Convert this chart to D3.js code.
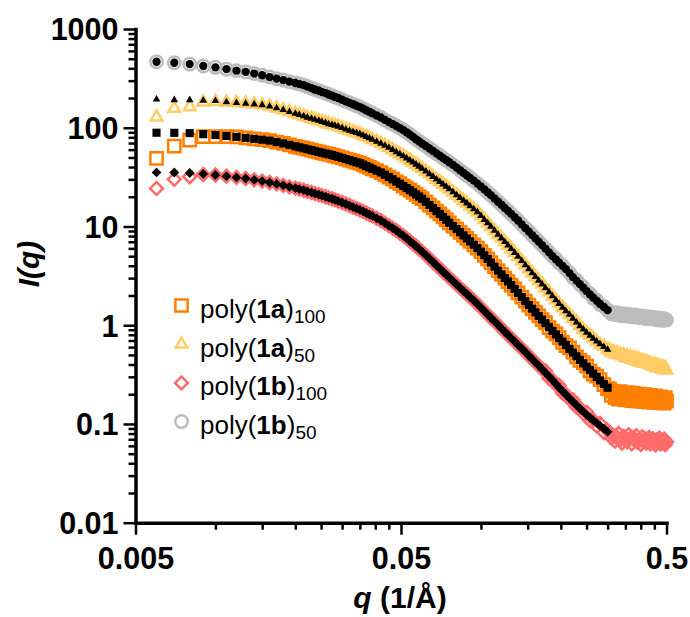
<!DOCTYPE html>
<html>
<head>
<meta charset="utf-8">
<script src="https://cdn.jsdelivr.net/npm/d3@7"></script>
<style>
  body { margin: 0; background: #fff; }
  text { font-family: "Liberation Sans", Arial, sans-serif; fill: #000; }
</style>
</head>
<body>
<svg id="chart" width="690" height="617"></svg>
<script>
// q (1/Å) where the fits are drawn
const qFit = [0.006, 0.007, 0.008, 0.009, 0.010, 0.011, 0.012, 0.013, 0.014, 0.015,
    0.016, 0.017, 0.018, 0.019, 0.020, 0.0207, 0.0215, 0.0222, 0.023, 0.0237,
    0.0245, 0.0252, 0.026, 0.0267, 0.0275, 0.0282, 0.029, 0.030, 0.031, 0.032,
    0.033, 0.034, 0.035, 0.036, 0.037, 0.038, 0.039, 0.0405, 0.042, 0.0435,
    0.045, 0.0465, 0.048, 0.0495, 0.051, 0.0525, 0.054, 0.0555, 0.057, 0.0585,
    0.060, 0.062, 0.064, 0.066, 0.068, 0.070, 0.072, 0.074, 0.076, 0.0785,
    0.081, 0.0835, 0.086, 0.0885, 0.091, 0.094, 0.097, 0.100, 0.103, 0.106,
    0.109, 0.1125, 0.116, 0.1195, 0.123, 0.1265, 0.130, 0.134, 0.138, 0.1425,
    0.147, 0.1515, 0.156, 0.1605, 0.165, 0.170, 0.175, 0.1805, 0.186, 0.1915,
    0.197, 0.203, 0.209, 0.2155, 0.222, 0.229, 0.236, 0.243, 0.250, 0.2575,
    0.265, 0.273, 0.281, 0.2905, 0.300];
// measured points past the end of the fit
const qTail = [0.305, 0.310, 0.315, 0.320, 0.325, 0.330, 0.335, 0.340, 0.345, 0.350,
    0.355, 0.360, 0.365, 0.370, 0.375, 0.380, 0.385, 0.390, 0.395, 0.400,
    0.405, 0.410, 0.415, 0.420, 0.425, 0.430, 0.435, 0.440, 0.445, 0.450,
    0.455, 0.460, 0.465, 0.470, 0.475, 0.480, 0.485, 0.490, 0.495, 0.500];

// poly(1a)100
const data1a100 = [49.0, 65.3, 75.1, 81.1, 81.4, 81.5, 80.9, 79.0, 77.2, 75.6,
    74.0, 71.6, 69.3, 67.1, 64.9, 63.4, 62.0, 60.6, 59.3, 58.1,
    56.9, 55.8, 54.8, 53.8, 52.9, 51.8, 50.8, 49.5, 48.2, 47.0,
    45.8, 44.7, 43.7, 42.3, 40.9, 39.6, 38.4, 36.8, 35.2, 33.4,
    31.7, 30.1, 28.5, 27.1, 25.7, 24.5, 23.3, 22.2, 21.1, 20.1,
    19.1, 17.8, 16.5, 15.4, 14.3, 13.4, 12.5, 11.7, 10.9, 10.1,
    9.41, 8.74, 8.12, 7.57, 7.06, 6.53, 6.04, 5.56, 5.11, 4.69,
    4.31, 3.92, 3.57, 3.27, 3.00, 2.77, 2.55, 2.33, 2.12, 1.93,
    1.75, 1.60, 1.47, 1.35, 1.24, 1.14, 1.06, 0.945, 0.870, 0.815,
    0.750, 0.672, 0.622, 0.590, 0.535, 0.478, 0.440, 0.418, 0.386, 0.345,
    0.318, 0.305, 0.281, 0.250, 0.228,
    0.225, 0.195, 0.215, 0.185, 0.205, 0.178, 0.212, 0.190, 0.200, 0.175,
    0.208, 0.186, 0.196, 0.172, 0.205, 0.182, 0.193, 0.170, 0.200, 0.180,
    0.188, 0.168, 0.198, 0.178, 0.186, 0.166, 0.195, 0.176, 0.184, 0.165,
    0.192, 0.174, 0.182, 0.164, 0.188, 0.172, 0.180, 0.163, 0.185, 0.170];
const fit1a100 = [89.0, 88.8, 88.2, 86.1, 84.3, 82.6, 80.9, 79.0, 77.2, 75.6,
    74.0, 71.6, 69.3, 67.1, 64.9, 63.4, 62.0, 60.6, 59.3, 58.1,
    56.9, 55.8, 54.8, 53.8, 52.9, 51.8, 50.8, 49.5, 48.2, 47.0,
    45.8, 44.7, 43.7, 42.3, 40.9, 39.6, 38.4, 36.8, 35.2, 33.4,
    31.7, 30.1, 28.5, 27.1, 25.7, 24.5, 23.3, 22.2, 21.1, 20.1,
    19.1, 17.8, 16.5, 15.4, 14.3, 13.4, 12.5, 11.7, 10.9, 10.1,
    9.41, 8.74, 8.12, 7.57, 7.06, 6.53, 6.04, 5.56, 5.11, 4.69,
    4.31, 3.92, 3.57, 3.27, 3.00, 2.77, 2.55, 2.33, 2.12, 1.93,
    1.75, 1.60, 1.47, 1.35, 1.24, 1.14, 1.05, 0.959, 0.876, 0.806,
    0.742, 0.683, 0.629, 0.576, 0.528, 0.485, 0.445, 0.411, 0.380, 0.351,
    0.324, 0.299, 0.276, 0.254, 0.233];

// poly(1a)50
const data1a50 = [128, 157, 163, 182, 184, 181, 179, 176, 173, 170,
    165, 158, 152, 145, 139, 135, 131, 127, 124, 121,
    118, 115, 112, 109, 107, 105, 103, 99.6, 96.3, 93.6,
    90.9, 88.6, 86.4, 83.6, 80.9, 78.4, 75.9, 72.5, 69.3, 66.0,
    62.9, 59.7, 56.7, 54.1, 51.7, 49.1, 46.7, 44.6, 42.5, 40.5,
    38.6, 36.2, 34.0, 31.9, 30.0, 28.3, 26.7, 25.3, 23.9, 22.3,
    20.8, 19.5, 18.3, 17.2, 16.1, 15.0, 14.0, 12.8, 11.7, 10.8,
    9.98, 9.09, 8.28, 7.60, 6.98, 6.44, 5.94, 5.42, 4.95, 4.48,
    4.06, 3.70, 3.37, 3.09, 2.83, 2.60, 2.38, 2.17, 1.97, 1.80,
    1.65, 1.51, 1.39, 1.28, 1.17, 1.08, 0.985, 0.900, 0.835, 0.790,
    0.738, 0.680, 0.636, 0.610, 0.571,
    0.56, 0.53, 0.54, 0.51, 0.53, 0.50, 0.51, 0.49, 0.50, 0.47,
    0.49, 0.46, 0.48, 0.45, 0.47, 0.44, 0.46, 0.43, 0.45, 0.42,
    0.44, 0.41, 0.43, 0.41, 0.42, 0.40, 0.41, 0.39, 0.40, 0.38,
    0.40, 0.37, 0.39, 0.37, 0.38, 0.36, 0.375, 0.355, 0.37, 0.35];
const fit1a50 = [194, 191, 191, 189, 187, 182, 179, 176, 173, 170,
    165, 158, 152, 145, 139, 135, 131, 127, 124, 121,
    118, 115, 112, 109, 107, 105, 103, 99.6, 96.3, 93.6,
    90.9, 88.6, 86.4, 83.6, 80.9, 78.4, 75.9, 72.5, 69.3, 66.0,
    62.9, 59.7, 56.7, 54.1, 51.7, 49.1, 46.7, 44.6, 42.5, 40.5,
    38.6, 36.2, 34.0, 31.9, 30.0, 28.3, 26.7, 25.3, 23.9, 22.3,
    20.8, 19.5, 18.3, 17.2, 16.1, 15.0, 14.0, 12.8, 11.7, 10.8,
    9.98, 9.09, 8.28, 7.60, 6.98, 6.44, 5.94, 5.42, 4.95, 4.48,
    4.06, 3.70, 3.37, 3.09, 2.83, 2.60, 2.38, 2.17, 1.97, 1.80,
    1.65, 1.51, 1.39, 1.28, 1.17, 1.07, 0.979, 0.907, 0.841, 0.784,
    0.731, 0.686, 0.643, 0.603, 0.566];

// poly(1b)100
const data1b100 = [24.3, 30.0, 31.9, 33.6, 33.2, 32.3, 31.4, 30.6, 29.7, 28.8,
    27.9, 27.0, 26.1, 25.2, 24.5, 23.9, 23.3, 22.7, 22.1, 21.5,
    21.0, 20.5, 20.0, 19.5, 19.1, 18.6, 18.1, 17.5, 16.9, 16.3,
    15.7, 15.2, 14.7, 14.2, 13.7, 13.2, 12.8, 12.1, 11.5, 10.8,
    10.2, 9.63, 9.09, 8.56, 8.07, 7.57, 7.11, 6.69, 6.30, 5.92,
    5.57, 5.13, 4.73, 4.37, 4.04, 3.75, 3.48, 3.25, 3.03, 2.80,
    2.58, 2.39, 2.22, 2.07, 1.93, 1.78, 1.64, 1.51, 1.39, 1.29,
    1.19, 1.10, 1.01, 0.931, 0.859, 0.797, 0.740, 0.684, 0.632, 0.581,
    0.534, 0.492, 0.453, 0.420, 0.390, 0.359, 0.345, 0.290, 0.280, 0.250,
    0.245, 0.205, 0.200, 0.178, 0.176, 0.148, 0.145, 0.128, 0.132, 0.108,
    0.110, 0.095, 0.101, 0.082, 0.086,
    0.082, 0.072, 0.077, 0.067, 0.074, 0.080, 0.069, 0.064, 0.075, 0.070,
    0.066, 0.078, 0.071, 0.063, 0.073, 0.068, 0.076, 0.065, 0.070, 0.062,
    0.074, 0.067, 0.071, 0.064, 0.069, 0.073, 0.063, 0.068, 0.071, 0.065,
    0.061, 0.069, 0.066, 0.072, 0.063, 0.068, 0.064, 0.070, 0.062, 0.066];
const fit1b100 = [35.3, 35.2, 34.8, 34.0, 33.2, 32.3, 31.4, 30.6, 29.7, 28.8,
    27.9, 27.0, 26.1, 25.2, 24.5, 23.9, 23.3, 22.7, 22.1, 21.5,
    21.0, 20.5, 20.0, 19.5, 19.1, 18.6, 18.1, 17.5, 16.9, 16.3,
    15.7, 15.2, 14.7, 14.2, 13.7, 13.2, 12.8, 12.1, 11.5, 10.8,
    10.2, 9.63, 9.09, 8.56, 8.07, 7.57, 7.11, 6.69, 6.30, 5.92,
    5.57, 5.13, 4.73, 4.37, 4.04, 3.75, 3.48, 3.25, 3.03, 2.80,
    2.58, 2.39, 2.22, 2.07, 1.93, 1.78, 1.64, 1.51, 1.39, 1.29,
    1.19, 1.10, 1.01, 0.931, 0.859, 0.797, 0.740, 0.684, 0.632, 0.581,
    0.534, 0.492, 0.453, 0.420, 0.390, 0.359, 0.331, 0.303, 0.278, 0.255,
    0.233, 0.215, 0.198, 0.182, 0.168, 0.155, 0.143, 0.133, 0.124, 0.116,
    0.109, 0.102, 0.0961, 0.0896, 0.0836];

// poly(1b)50
const data1b50 = [466, 455, 441, 422, 409, 392, 378, 368, 354, 340,
    326, 314, 304, 293, 284, 277, 270, 261, 252, 244,
    237, 230, 224, 217, 211, 205, 200, 192, 185, 179,
    173, 167, 162, 156, 150, 145, 140, 133, 127, 120,
    114, 109, 104, 99.3, 94.8, 89.9, 85.3, 80.7, 76.4, 72.7,
    69.2, 65.3, 61.6, 58.2, 55.0, 52.1, 49.4, 47.0, 44.7, 42.0,
    39.5, 37.1, 34.9, 32.9, 31.1, 29.1, 27.2, 25.4, 23.8, 22.2,
    20.8, 19.2, 17.8, 16.6, 15.4, 14.4, 13.4, 12.4, 11.5, 10.5,
    9.63, 8.88, 8.18, 7.58, 7.03, 6.48, 5.97, 5.47, 5.01, 4.70,
    4.28, 4.02, 3.66, 3.40, 3.05, 2.86, 2.58, 2.44, 2.19, 2.08,
    1.87, 1.79, 1.62, 1.55, 1.43,
    1.36, 1.31, 1.33, 1.28, 1.34, 1.27, 1.30, 1.25, 1.31, 1.26,
    1.29, 1.23, 1.28, 1.24, 1.21, 1.27, 1.22, 1.25, 1.19, 1.24,
    1.20, 1.23, 1.17, 1.22, 1.19, 1.16, 1.21, 1.17, 1.20, 1.15,
    1.19, 1.16, 1.13, 1.18, 1.15, 1.17, 1.12, 1.16, 1.14, 1.13];
const fit1b50 = [466, 455, 441, 422, 409, 392, 378, 368, 354, 340,
    326, 314, 304, 293, 284, 277, 270, 261, 252, 244,
    237, 230, 224, 217, 211, 205, 200, 192, 185, 179,
    173, 167, 162, 156, 150, 145, 140, 133, 127, 120,
    114, 109, 104, 99.3, 94.8, 89.9, 85.3, 80.7, 76.4, 72.7,
    69.2, 65.3, 61.6, 58.2, 55.0, 52.1, 49.4, 47.0, 44.7, 42.0,
    39.5, 37.1, 34.9, 32.9, 31.1, 29.1, 27.2, 25.4, 23.8, 22.2,
    20.8, 19.2, 17.8, 16.6, 15.4, 14.4, 13.4, 12.4, 11.5, 10.5,
    9.63, 8.88, 8.18, 7.58, 7.03, 6.48, 5.97, 5.47, 5.01, 4.65,
    4.31, 3.99, 3.70, 3.37, 3.07, 2.83, 2.61, 2.41, 2.22, 2.05,
    1.90, 1.77, 1.64, 1.53, 1.42];

const yTicks = [0.01, 0.1, 1, 10, 100, 1000];
const yLabels = ["0.01", "0.1", "1", "10", "100", "1000"];
const xTicks = [0.005, 0.05, 0.5];
const xLabels = ["0.005", "0.05", "0.5"];
const xMinor = [0.01, 0.015, 0.02, 0.025, 0.03, 0.035, 0.04, 0.045,
    0.1, 0.15, 0.2, 0.25, 0.3, 0.35, 0.4, 0.45];

const series = [
    {name: "1a", sub: "100", color: "#FF8000", shape: "square", data: data1a100, fit: fit1a100},
    {name: "1a", sub: "50", color: "#FFCC66", shape: "triangle", data: data1a50, fit: fit1a50},
    {name: "1b", sub: "100", color: "#FF6B6B", shape: "diamond", data: data1b100, fit: fit1b100},
    {name: "1b", sub: "50", color: "#BDBDBD", shape: "circle", data: data1b50, fit: fit1b50}
];

const svg = d3.select("#chart");
const area = {left: 135.5, right: 666.5, top: 29, bottom: 522.7};

const x = d3.scaleLog().domain([0.005, 0.5]).range([area.left, area.right]);
const y = d3.scaleLog().domain([0.01, 1000]).range([area.bottom, area.top]);

// big = open data marker, small = filled fit marker
function markerPath(shape, big) {
    if (shape === "square") return d3.symbol(d3.symbolSquare, big ? 150 : 66)();
    if (shape === "triangle") return d3.symbol(d3.symbolTriangle, big ? 58 : 25)();
    if (shape === "diamond") return d3.symbol(d3.symbolSquare, big ? 82 : 48)();
    return d3.symbol(d3.symbolCircle, big ? 122 : 54)();
}
function markerRot(shape) {
    return shape === "diamond" ? " rotate(45)" : "";
}

// measured data (open coloured markers)
const qData = qFit.concat(qTail);
series.forEach(s => {
    const pts = s.data.map((v, i) => [qData[i], v]).filter(p => p[0] !== undefined);
    svg.append("g")
        .selectAll("path")
        .data(pts)
        .join("path")
        .attr("d", markerPath(s.shape, true))
        .attr("transform", d => `translate(${x(d[0])},${y(d[1])})` + markerRot(s.shape))
        .attr("fill", "none")
        .attr("stroke", s.color)
        .attr("stroke-width", 2.5);
});

// fits (small black filled markers)
series.forEach(s => {
    const pts = s.fit.map((v, i) => [qFit[i], v]).filter(p => p[0] !== undefined);
    svg.append("g")
        .selectAll("path")
        .data(pts)
        .join("path")
        .attr("d", markerPath(s.shape, false))
        .attr("transform", d => `translate(${x(d[0])},${y(d[1])})` + markerRot(s.shape))
        .attr("fill", "#000");
});

// axes
function styleAxis(g, fontSize) {
    g.select(".domain").attr("stroke-width", 3.5).attr("stroke-linecap", "square");
    g.selectAll(".tick line").attr("stroke-width", 2.5);
    g.selectAll("text")
        .style("font-size", fontSize + "px")
        .style("font-weight", "bold")
        .attr("fill", "#000");
}

const yMinor = y.ticks().filter(d => !yTicks.some(t => Math.abs(t - d) / t < 1e-6));
svg.append("g")
    .attr("transform", `translate(${area.left},0)`)
    .call(d3.axisLeft(y).tickValues(yMinor).tickSize(7).tickFormat(""))
    .call(g => g.select(".domain").remove())
    .selectAll("line").attr("stroke-width", 2.5);

svg.append("g")
    .attr("transform", `translate(0,${area.bottom})`)
    .call(d3.axisBottom(x).tickValues(xMinor).tickSize(7).tickFormat(""))
    .call(g => g.select(".domain").remove())
    .selectAll("line").attr("stroke-width", 2.5);

const gy = svg.append("g")
    .attr("transform", `translate(${area.left},0)`)
    .call(d3.axisLeft(y).tickValues(yTicks).tickSize(12).tickSizeOuter(0).tickPadding(5)
        .tickFormat((d, i) => yLabels[i]));
styleAxis(gy, 30.5);
gy.selectAll("text").attr("dy", "0.36em");

const gx = svg.append("g")
    .attr("transform", `translate(0,${area.bottom})`)
    .call(d3.axisBottom(x).tickValues(xTicks).tickSize(12).tickSizeOuter(0).tickPadding(13)
        .tickFormat((d, i) => xLabels[i]));
styleAxis(gx, 30.5);

// axis titles
const yTitle = svg.append("text")
    .attr("transform", "translate(39,264) rotate(-90)")
    .attr("text-anchor", "middle")
    .style("font-size", "30px")
    .style("font-weight", "bold")
    .style("font-style", "italic");
yTitle.append("tspan").text("I");
yTitle.append("tspan").text("(q)");

const xTitle = svg.append("text")
    .attr("x", 400)
    .attr("y", 608)
    .attr("text-anchor", "middle")
    .style("font-size", "30px")
    .style("font-weight", "bold");
xTitle.append("tspan").style("font-style", "italic").text("q");
xTitle.append("tspan").text(" (1/Å)");

// legend
const legend = svg.append("g").attr("transform", "translate(181.5,305.5)");
series.forEach((s, i) => {
    const row = legend.append("g").attr("transform", `translate(0,${i * 38.7})`);
    row.append("path")
        .attr("d", markerPath(s.shape, true))
        .attr("transform", markerRot(s.shape).trim())
        .attr("fill", "none")
        .attr("stroke", s.color)
        .attr("stroke-width", 2.5);
    const t = row.append("text")
        .attr("x", 18.5)
        .attr("y", 12.5)
        .style("font-size", "26px");
    t.append("tspan").text("poly(");
    t.append("tspan").style("font-weight", "bold").text(s.name);
    t.append("tspan").text(")");
    t.append("tspan").attr("dy", 5).style("font-size", "19px").text(s.sub);
});
</script>
</body>
</html>
